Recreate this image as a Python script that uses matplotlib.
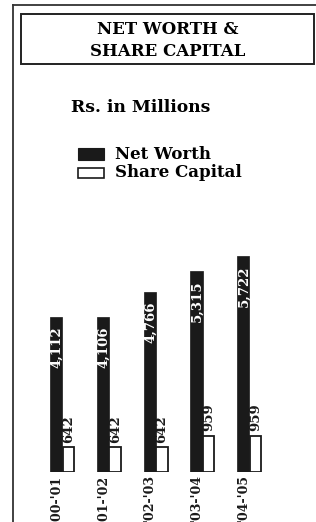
import matplotlib
matplotlib.use("Agg")
import matplotlib.pyplot as plt
from matplotlib.patches import Rectangle
from matplotlib.lines import Line2D

# --- data ---
years = ["'00-'01", "'01-'02", "'02-'03", "'03-'04", "'04-'05"]
net_worth = [4112, 4106, 4766, 5315, 5722]
share_capital = [642, 642, 642, 959, 959]
title_lines = ["NET WORTH &", "SHARE CAPITAL"]

W, H = 316, 522
plt.rcParams["font.family"] = ["DejaVu Serif"]
plt.rcParams["font.weight"] = "bold"

fig = plt.figure(figsize=(W / 100, H / 100), dpi=100)


def fx(x):
    return x / W


def fy(y):
    return 1 - y / H


# outer frame (left and top edges only visible)
fig.add_artist(Line2D([fx(12.5), fx(12.5)], [fy(4.7), fy(H + 5)], color="#333333",
                      lw=1.3, transform=fig.transFigure))
fig.add_artist(Line2D([fx(12.5), fx(W + 5)], [fy(4.7), fy(4.7)], color="#333333",
                      lw=1.3, transform=fig.transFigure))

# title box
fig.add_artist(Rectangle((fx(21), fy(64)), fx(314) - fx(21), fy(14) - fy(64),
                         fill=False, ec="#222222", lw=1.4, transform=fig.transFigure))
for line, ypx in zip(title_lines, [30, 52]):
    fig.text(fx(167.5), fy(ypx), line, ha="center", va="center",
             fontsize=12, fontweight="bold")

fig.text(fx(71), fy(107), "Rs. in Millions", ha="left", va="center",
         fontsize=12.3, fontweight="bold")

# legend
fig.add_artist(Rectangle((fx(78), fy(159.5)), fx(26), fy(0) - fy(12),
                         fc="#1a1a1a", ec="#1a1a1a", lw=0.8, transform=fig.transFigure))
fig.add_artist(Rectangle((fx(78), fy(178)), fx(25.5), fy(0) - fy(10.5),
                         fc="white", ec="#1a1a1a", lw=1.2, transform=fig.transFigure))
fig.text(fx(115), fy(154.5), "Net Worth", ha="left", va="center",
         fontsize=12, fontweight="bold")
fig.text(fx(115), fy(172.5), "Share Capital", ha="left", va="center",
         fontsize=12, fontweight="bold")

# bars
base_px, top_px = 471.7, 200
ax = fig.add_axes([0, fy(base_px), 1, fy(top_px) - fy(base_px)])
unit = 46.75
ax.set_xlim(-56.2 / unit, (W - 56.2) / unit)
ax.set_ylim(0, (base_px - top_px) * 26.5)
ax.axis("off")

bw = 12.3 / unit
xs = list(range(len(years)))
ax.bar(xs, net_worth, width=bw, color="#1a1a1a", edgecolor="#1a1a1a", lw=0.5)
ax.bar([x + bw for x in xs], share_capital, width=11.5 / unit,
       color="white", edgecolor="#1a1a1a", lw=1.3)

for x, nw, sc, yr in zip(xs, net_worth, share_capital, years):
    ax.annotate(f"{nw:,}", (x, nw), xytext=(0.5, -7), textcoords="offset points",
                rotation=90, ha="center", va="top", color="white",
                fontsize=9.5, fontweight="bold")
    ax.annotate(f"{sc:,}", (x + bw, sc), xytext=(0, 3), textcoords="offset points",
                rotation=90, ha="center", va="bottom", color="#1a1a1a",
                fontsize=9.5, fontweight="bold")
    ax.annotate(yr, (x, 0), xytext=(0, -2), textcoords="offset points",
                rotation=90, ha="center", va="top", color="#1a1a1a",
                fontsize=9, fontweight="bold", annotation_clip=False)

fig.savefig("out.png", dpi=100)
